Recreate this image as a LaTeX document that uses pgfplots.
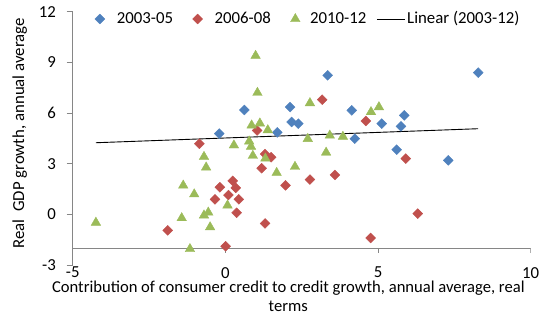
\documentclass[border=0pt]{standalone}
\usepackage{pgfplots}
\pgfplotsset{compat=1.18}
\usepackage{fontspec}
\setmainfont{Carlito}
\definecolor{ser1}{HTML}{4F81BD}
\definecolor{ser2}{HTML}{C0504D}
\definecolor{ser3}{HTML}{9BBB59}
\definecolor{axisgray}{HTML}{868686}
\pgfplotsset{trendlegend/.style={legend image code/.code={\draw[##1] (0pt,0pt) -- (28pt,0pt);}}}
\newcommand\chartfont{\fontsize{16.8}{19.5}\selectfont}

\begin{document}
\chartfont
\begin{tikzpicture}
\path[use as bounding box] (-72.7pt,-55pt) rectangle (466.3pt,265pt);
\begin{axis}[
  at={(0,0)}, anchor=south west,
  scale only axis, width=458pt, height=253.3pt,
  xmin=-5, xmax=10, ymin=-3, ymax=12,
  xtick={-5,0,5,10}, ytick={-3,0,3,6,9,12},
  axis lines*=left,
  x axis line style={draw=none},
  y axis line style={axisgray, line width=0.8pt},
  xtick style={draw=none},
  ytick style={axisgray, line width=0.8pt},
  tick align=outside, major tick length=6pt,
  /pgf/number format/assume math mode=true,
  ticklabel style={font=\chartfont, text=black},
  xticklabel style={inner sep=0pt, yshift=4pt},
  yticklabel style={xshift=-5pt},
  label style={text=black},
  xlabel={Contribution of consumer credit to credit growth, annual average, real\\terms},
  x label style={font=\fontsize{16.6}{19.2}\selectfont, align=center,
    at={(rel axis cs:0.4708,0)}, anchor=north, inner sep=0pt, yshift=-16pt},
  ylabel={Real\ \ GDP growth, annual average},
  y label style={font=\chartfont, at={(rel axis cs:-0.1157,0.52)}, anchor=center},
  legend columns=4,
  legend style={draw=none, fill=none, at={(rel axis cs:0,1)}, anchor=west,
    xshift=19pt, yshift=-7.3pt, font=\chartfont,
    /tikz/column 1/.style={column sep=10pt},
    /tikz/column 2/.style={column sep=17.7pt},
    /tikz/column 3/.style={column sep=10pt},
    /tikz/column 4/.style={column sep=17.7pt},
    /tikz/column 5/.style={column sep=8pt},
    /tikz/column 6/.style={column sep=8pt},
    /tikz/column 7/.style={column sep=0pt}},
  legend cell align=left,
]
% horizontal axis line crossing at y = -2, with its tick marks
\addplot[axisgray, line width=0.8pt, forget plot] coordinates {(-5,-2) (10,-2)};
\draw[axisgray, line width=0.8pt] (axis cs:-5,-2) -- ++(0pt,-5pt);
\draw[axisgray, line width=0.8pt] (axis cs:0,-2) -- ++(0pt,-5pt);
\draw[axisgray, line width=0.8pt] (axis cs:5,-2) -- ++(0pt,-5pt);
\draw[axisgray, line width=0.8pt] (axis cs:10,-2) -- ++(0pt,-5pt);

% 2003-05
\addplot[only marks, mark=square*, mark size=3.5pt,
  mark options={rotate=45, fill=ser1, draw=ser1}] coordinates {
  (-0.20,4.78) (0.62,6.18) (1.70,4.85) (2.12,6.35) (2.17,5.47) (2.39,5.37)
  (3.35,8.23) (4.14,6.16) (4.24,4.48) (5.12,5.37) (5.61,3.83) (5.75,5.21)
  (5.86,5.86) (7.30,3.20) (8.28,8.39)
};
\addlegendentry{2003-05}
% 2006-08
\addplot[only marks, mark=square*, mark size=3.5pt,
  mark options={rotate=45, fill=ser2, draw=ser2}] coordinates {
  (-1.89,-0.95) (-0.85,4.18) (-0.34,0.89) (-0.18,1.60) (0.01,-1.89) (0.10,1.14)
  (0.24,1.98) (0.34,1.57) (0.37,0.09) (0.44,0.89) (1.04,4.97) (1.19,2.73)
  (1.30,-0.54) (1.30,3.57) (1.50,3.38) (1.97,1.72) (2.77,2.06) (3.17,6.79)
  (3.59,2.33) (4.60,5.53) (4.76,-1.40) (5.91,3.30) (6.30,0.04)
};
\addlegendentry{2006-08}
% 2010-12
\addplot[only marks, mark=triangle*, mark size=5.5pt,
  mark options={fill=ser3, draw=ser3}] coordinates {
  (-4.24,-0.49) (-1.43,-0.22) (-1.38,1.71) (-1.16,-2.05) (-1.02,1.19)
  (-0.70,3.41) (-0.63,2.78) (-0.70,-0.06) (-0.56,0.11) (-0.50,-0.76)
  (0.07,0.53) (0.28,4.09) (0.78,4.32) (0.84,4.01) (0.90,3.47) (0.86,5.27)
  (0.99,9.39) (1.05,7.20) (1.13,5.39) (1.31,3.31) (1.39,4.99) (1.68,2.46)
  (2.28,2.82) (2.70,4.47) (2.77,6.59) (3.30,3.66) (3.42,4.67) (3.85,4.60)
  (4.77,6.06) (5.03,6.35)
};
\addlegendentry{2010-12}
% linear trend over 2003-12
\addplot[black, line width=0.9pt, trendlegend]
  coordinates {(-4.24,4.24) (8.28,5.07)};
\addlegendentry{Linear (2003-12)}
\end{axis}
\end{tikzpicture}
\end{document}
